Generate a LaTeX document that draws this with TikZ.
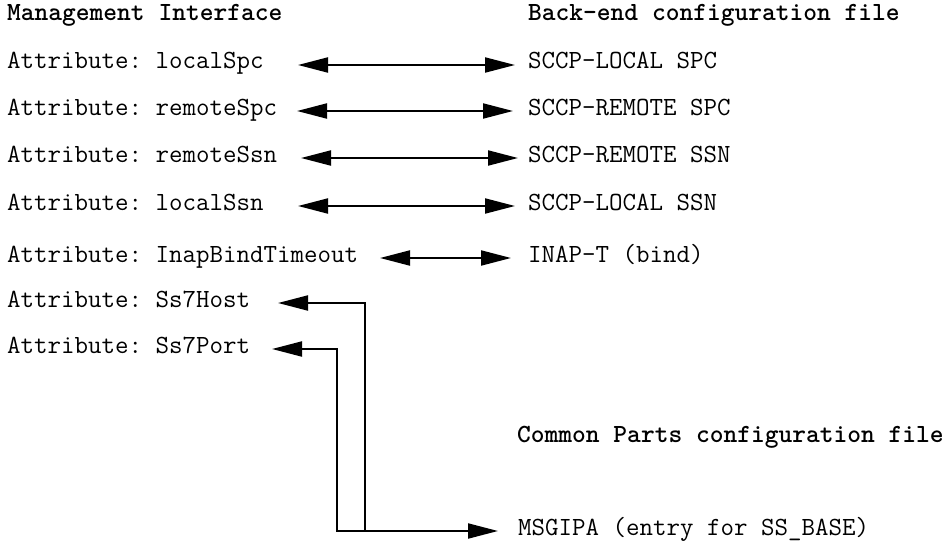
\documentclass[tikz,border=0pt]{standalone}
\usepackage{fontspec}
\usetikzlibrary{arrows.meta}
\begin{document}
\frenchspacing
\begin{tikzpicture}[x=1pt,y=-1pt,
  label/.style={anchor=base west,inner sep=0pt,font=\fontsize{26.2}{30}\selectfont\ttfamily},
  head/.style={label,font=\fontsize{26.2}{30}\selectfont\ttfamily\bfseries},
  link/.style={line width=2pt,miter limit=10,
    {Triangle[length=30pt,width=15pt]}-{Triangle[length=30pt,width=15pt]}},
  linkback/.style={line width=2pt,{Triangle[length=30pt,width=15pt]}-}]
\useasboundingbox (0,0) rectangle (947,543);

% column headings
\node[head] (hmi) at (7,21) {Management Interface};
\node[head] (hbe) at (528,21) {Back-end configuration file};
\node[head] (hcp) at (517,442) {Common Parts configuration file};

% management interface attributes
\node[label] (l1) at (7,69) {Attribute: localSpc};
\node[label] (l2) at (7,115) {Attribute: remoteSpc};
\node[label] (l3) at (7,162) {Attribute: remoteSsn};
\node[label] (l4) at (7,210) {Attribute: localSsn};
\node[label] (l5) at (7,262) {Attribute: InapBindTimeout};
\node[label] (l6) at (7,307) {Attribute: Ss7Host};
\node[label] (l7) at (7,353) {Attribute: Ss7Port};

% back-end entries
\node[label] (r1) at (528,69) {SCCP-LOCAL SPC};
\node[label] (r2) at (528,115) {SCCP-REMOTE SPC};
\node[label] (r3) at (528,162) {SCCP-REMOTE SSN};
\node[label] (r4) at (528,210) {SCCP-LOCAL SSN};
\node[label] (r5) at (528,262) {INAP-T (bind)};

% common parts entry
\node[label] (m1) at (518,535) {MSGIPA (entry for SS\_BASE)};

% arrow end points
\coordinate (a1) at (298,65);  \coordinate (b1) at (515,65);
\coordinate (a2) at (297,111); \coordinate (b2) at (513,111);
\coordinate (a3) at (301,158); \coordinate (b3) at (518,158);
\coordinate (a4) at (298,206); \coordinate (b4) at (515,206);
\coordinate (a5) at (380,258); \coordinate (b5) at (511,258);
\coordinate (a6) at (278,303);
\coordinate (a7) at (272,349);
\coordinate (b7) at (498,531);

% one-to-one mappings
\draw[link] (a1) -- (b1);
\draw[link] (a2) -- (b2);
\draw[link] (a3) -- (b3);
\draw[link] (a4) -- (b4);
\draw[link] (a5) -- (b5);

% host and port both come from MSGIPA
\draw[link] (a7) -- (337,349) -- (337,531) -- (b7);
\draw[linkback] (a6) -- (365,303) -- (365,531);
\end{tikzpicture}
\end{document}
